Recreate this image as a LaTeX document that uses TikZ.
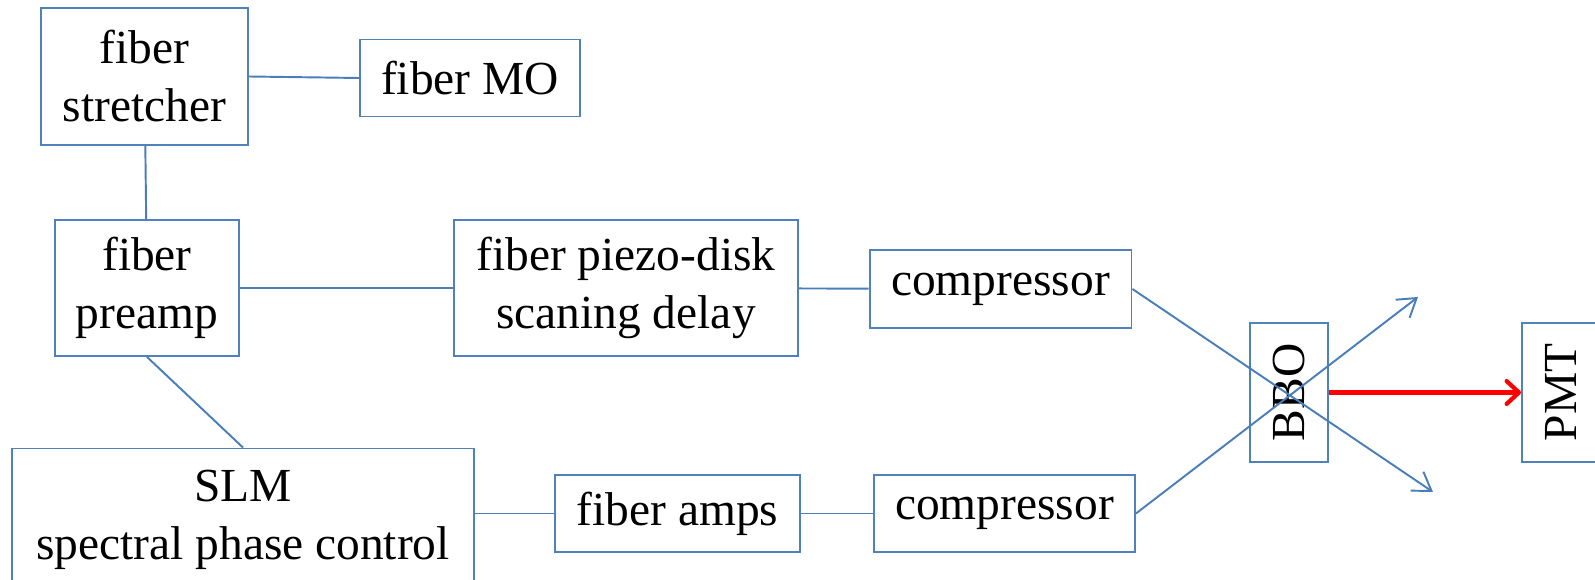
\documentclass[tikz,border=0pt]{standalone}
\usepackage{fontspec}
\setmainfont{Liberation Serif}
\usetikzlibrary{arrows.meta}
\definecolor{boxblue}{RGB}{79,129,189}
\definecolor{lineblue}{RGB}{74,126,187}
\tikzset{
  blk/.style={draw=boxblue, line width=1.1pt, align=center, inner sep=0pt,
    font=\fontsize{27}{33}\selectfont},
  link/.style={draw=lineblue, line width=1.1pt},
  beam/.style={link, -{Straight Barb[length=10pt,width=13pt]}},
  signal/.style={draw=red, line width=2.4pt, -{Straight Barb[length=7pt,width=13pt,round]}}
}

\begin{document}
\begin{tikzpicture}[x=0.02cm,y=-0.02cm]
  \useasboundingbox (0,0) rectangle (1595,580);
  % oscillator and front end
  \node[blk,minimum width=4.14cm,minimum height=2.74cm] (stretch) at (144.5,76.5) {fiber\\stretcher};
  \node[blk,minimum width=4.40cm,minimum height=1.54cm] (mo) at (470,78) {fiber MO};
  \node[blk,minimum width=3.68cm,minimum height=2.72cm] (preamp) at (147,288) {fiber\\preamp};
  \node[blk,minimum width=9.24cm,minimum height=2.86cm] (slm) at (243,520) {SLM\\spectral phase control};
  % two arms
  \node[blk,minimum width=6.88cm,minimum height=2.72cm] (piezo) at (626,288) {fiber piezo-disk\\scaning delay};
  \node[blk,minimum width=5.24cm,minimum height=1.56cm] (comp1) at (1000.5,289) {compressor};
  \node[blk,minimum width=4.90cm,minimum height=1.54cm] (amps) at (677.5,513.5) {fiber amps};
  \node[blk,minimum width=5.22cm,minimum height=1.54cm] (comp2) at (1004.5,513.5) {compressor};
  % crystal and detector
  \node[blk,minimum width=1.56cm,minimum height=2.78cm] (bbo) at (1289,392.5) {\rotatebox{90}{BBO}};
  \node[blk,minimum width=1.56cm,minimum height=2.78cm] (pmt) at (1561,392.5) {\rotatebox{90}{PMT}};
  \coordinate (up) at (1418,297);
  \coordinate (down) at (1433,492);

  \draw[link] (stretch.east) -- (mo.west);
  \draw[link] (stretch) -- (preamp);
  \draw[link] (preamp) -- (piezo);
  \draw[link] (piezo) -- (comp1);
  \draw[link] (preamp.south) -- (slm.north);
  \draw[link] (amps.west -| slm.east) -- (amps.west);
  \draw[link] (amps) -- (comp2);
  \draw[beam] (comp1.east) -- (down);
  \draw[beam] (comp2.east) -- (up);
  \draw[signal] (bbo.east) -- (pmt.west);
\end{tikzpicture}
\end{document}
